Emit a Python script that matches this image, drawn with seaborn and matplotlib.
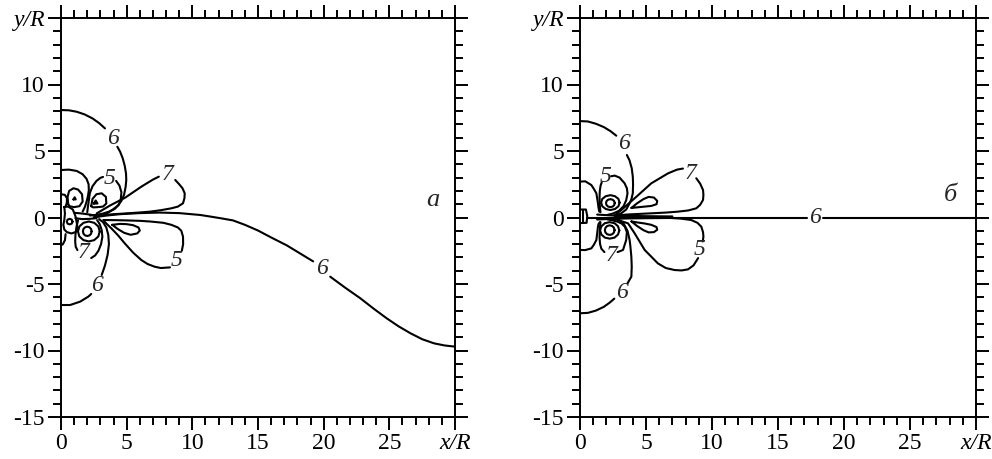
import numpy as np
import pandas as pd
import matplotlib
matplotlib.use("Agg")
import matplotlib.pyplot as plt
import seaborn as sns

sns.set_style("ticks")
plt.rcParams['font.family'] = ['Liberation Serif', 'DejaVu Serif']
plt.rcParams['axes.unicode_minus'] = False

# ---------------- tick labels ----------------
x_ticks = [0, 5, 10, 15, 20, 25, 30]
x_tick_labels = ['0', '5', '10', '15', '20', '25', 'x/R']
y_ticks = [-15, -10, -5, 0, 5, 10, 15]
y_tick_labels = ['-15', '-10', '-5', '0', '5', '10', 'y/R']

# ---------------- panel a: contour lines (x/R, y/R) ----------------
a_big6_up1_x = [0, 0.6, 1.2, 1.8, 2.4, 2.9, 3.35]
a_big6_up1_y = [8.08, 8.06, 7.95, 7.75, 7.45, 7.1, 6.7]
a_big6_up2_x = [4.29, 4.5, 4.7, 4.85, 4.95, 4.97, 4.92, 4.8, 4.6, 4.33, 3.95, 3.5, 2.97, 2.5]
a_big6_up2_y = [5.32, 4.95, 4.45, 3.9, 3.32, 2.8, 2.3, 1.7, 1.25, 0.9, 0.6, 0.32, 0.11, 0.02]
a_big6_lo1_x = [0, 0.69, 1.45, 2.08, 2.3]
a_big6_lo1_y = [-6.58, -6.58, -6.33, -5.95, -5.75]
a_big6_lo2_x = [3.1, 3.35, 3.55, 3.65, 3.6, 3.45, 3.2, 2.9]
a_big6_lo2_y = [-4.32, -3.6, -2.8, -2.0, -1.3, -0.75, -0.35, -0.12]
a_long6_1_x = [2.6, 3.5, 4.5, 6.0, 7.5, 9.0, 10.6, 11.5, 12.3, 13.1, 14.0, 15.0, 16.0, 17.2, 18.2, 19.2]
a_long6_1_y = [0.03, 0.15, 0.25, 0.33, 0.37, 0.33, 0.19, 0.05, -0.08, -0.22, -0.55, -0.98, -1.5, -2.1, -2.7, -3.3]
a_long6_2_x = [20.5, 21.6, 22.8, 23.8, 24.8, 25.7, 26.6, 27.5, 28.4, 29.2, 30.0]
a_long6_2_y = [-4.45, -5.25, -6.08, -6.85, -7.58, -8.18, -8.7, -9.15, -9.46, -9.62, -9.71]
a_pet7_1_x = [2.72, 3.73, 4.9, 6.12, 7.0, 7.45]
a_pet7_1_y = [0.31, 0.9, 1.5, 2.32, 2.85, 3.07]
a_pet7_2_x = [8.7, 9.0, 9.25, 9.42, 9.4, 9.29, 8.9, 8.4, 7.6, 6.78, 5.9, 5.0, 4.0, 3.22, 2.6]
a_pet7_2_y = [2.82, 2.5, 2.2, 1.82, 1.45, 1.07, 0.82, 0.69, 0.55, 0.44, 0.37, 0.31, 0.25, 0.19, 0.12]
a_pet5_1_x = [3.22, 4.2, 5.0, 6.0, 6.78, 7.8, 8.4, 8.9, 9.16, 9.29, 9.3, 9.2]
a_pet5_1_y = [-0.19, -0.2, -0.22, -0.25, -0.3, -0.4, -0.55, -0.75, -1.0, -1.44, -2.0, -2.5]
a_pet5_2_x = [8.3, 7.6, 7.13, 6.6, 6.12, 5.5, 4.85, 4.35, 3.83, 3.5, 3.3]
a_pet5_2_y = [-3.75, -3.8, -3.7, -3.5, -3.2, -2.65, -1.94, -1.35, -0.81, -0.5, -0.3]
a_oval_lo_x = [3.9, 4.5, 5.0, 5.5, 5.9, 6.0, 5.8, 5.3, 4.8, 4.3, 3.9]
a_oval_lo_y = [-0.55, -0.48, -0.5, -0.58, -0.75, -0.98, -1.2, -1.3, -1.15, -0.85, -0.55]
a_arc_x = [0, 0.6, 1.2, 1.65, 1.95, 2.1, 2.12, 2.05, 1.95, 1.82, 1.65]
a_arc_y = [3.57, 3.6, 3.5, 3.25, 2.9, 2.5, 2.05, 1.6, 1.2, 0.8, 0.45]
a_ovl_ul_x = [0.55, 0.5, 0.62, 0.95, 1.3, 1.6, 1.65, 1.4, 1.0, 0.65, 0.55]
a_ovl_ul_y = [1.0, 1.55, 2.0, 2.2, 2.1, 1.75, 1.2, 0.85, 0.78, 0.85, 1.0]
a_dot_ul_x = [0.95, 1.12, 1.04, 0.95]
a_dot_ul_y = [1.36, 1.36, 1.52, 1.36]
a_lobe5_1_x = [2.0, 2.05, 2.12, 2.2, 2.4, 2.7, 3.0, 3.2]
a_lobe5_1_y = [0.4, 0.8, 1.3, 1.85, 2.35, 2.75, 2.98, 3.05]
a_lobe5_2_x = [4.2, 4.45, 4.6, 4.55, 4.4, 4.1, 3.7, 3.2, 2.7, 2.2]
a_lobe5_2_y = [2.75, 2.4, 1.9, 1.35, 0.95, 0.65, 0.45, 0.3, 0.2, 0.15]
a_ovl_ur_x = [2.3, 2.4, 2.7, 3.1, 3.42, 3.45, 3.2, 2.8, 2.45, 2.3]
a_ovl_ur_y = [0.85, 1.4, 1.75, 1.82, 1.55, 1.05, 0.82, 0.78, 0.76, 0.85]
a_dot_ur_x = [2.5, 2.78, 2.64, 2.5]
a_dot_ur_y = [1.05, 1.05, 1.28, 1.05]
a_circ_out_x = [2.95, 2.84, 2.53, 2.12, 1.71, 1.4, 1.29, 1.4, 1.71, 2.12, 2.53, 2.84, 2.95]
a_circ_out_y = [-1.05, -0.67, -0.4, -0.3, -0.4, -0.67, -1.05, -1.43, -1.7, -1.8, -1.7, -1.43, -1.05]
a_circ_in_x = [2.33, 2.29, 2.16, 2.0, 1.84, 1.71, 1.67, 1.71, 1.84, 2.0, 2.16, 2.29, 2.33]
a_circ_in_y = [-1.04, -0.86, -0.73, -0.69, -0.73, -0.86, -1.04, -1.22, -1.35, -1.39, -1.35, -1.22, -1.04]
a_u7_1_x = [1.3, 1.18, 1.1, 1.08, 1.12, 1.25]
a_u7_1_y = [-0.2, -0.7, -1.3, -1.8, -2.2, -2.45]
a_u7_2_x = [2.3, 2.6, 2.85, 3.05, 3.15, 3.1, 2.95, 2.75]
a_u7_2_y = [-3.05, -2.85, -2.5, -2.0, -1.45, -0.95, -0.5, -0.2]
a_wig_x = [0.25, 0.55, 0.9, 1.1, 1.2, 1.25, 1.1, 0.8, 0.45, 0.25, 0.18, 0.25, 0.3, 0.25]
a_wig_y = [0.8, 0.82, 0.6, 0.1, -0.4, -0.85, -1.1, -1.2, -1.1, -0.9, -0.55, -0.2, 0.3, 0.8]
a_circ_s_x = [0.88, 0.82, 0.66, 0.5, 0.44, 0.5, 0.66, 0.82, 0.88]
a_circ_s_y = [-0.31, -0.16, -0.1, -0.16, -0.31, -0.46, -0.52, -0.46, -0.31]
a_wtop_x = [0, 0.3, 0.45, 0.45, 0.38]
a_wtop_y = [1.75, 1.7, 1.45, 1.15, 0.9]
a_wbot_x = [0.35, 0.3, 0.15, 0]
a_wbot_y = [-1.25, -1.7, -2.0, -2.1]
a_cen1_x = [1.05, 1.6, 2.2, 2.8]
a_cen1_y = [0.35, 0.3, 0.22, 0.1]
a_cen2_x = [1.1, 1.6, 2.2, 2.7]
a_cen2_y = [-0.05, -0.12, -0.1, -0.05]

a_labels_txt = ['6', '5', '7', '7', '6', '5', '6']
a_labels_x = [3.97, 3.7, 8.15, 1.7, 2.72, 8.8, 19.9]
a_labels_y = [5.97, 2.94, 3.2, -2.65, -5.1, -3.2, -3.85]

# ---------------- panel б ----------------
b_6up1_x = [0, 0.6, 1.2, 1.8, 2.3, 2.75]
b_6up1_y = [7.25, 7.22, 7.05, 6.8, 6.5, 6.15]
b_6up2_x = [3.55, 3.75, 3.92, 4.0, 4.02, 4.0, 3.9, 3.76, 3.5, 3.1, 2.6]
b_6up2_y = [4.7, 4.3, 3.7, 3.07, 2.5, 1.82, 1.4, 1.07, 0.6, 0.3, 0.15]
b_6lo1_x = [0, 0.6, 1.2, 1.8, 2.25, 2.6]
b_6lo1_y = [-7.2, -7.17, -7.0, -6.72, -6.4, -6.1]
b_6lo2_x = [3.6, 3.89, 3.92, 3.89, 3.82, 3.76, 3.6, 3.3, 2.9, 2.6]
b_6lo2_y = [-4.95, -4.45, -3.7, -2.95, -2.2, -1.69, -1.0, -0.45, -0.15, -0.08]
b_pet7_1_x = [2.6, 3.13, 4.27, 5.4, 6.67, 7.35, 7.8]
b_pet7_1_y = [0.15, 0.56, 1.56, 2.57, 3.32, 3.6, 3.68]
b_pet7_2_x = [8.81, 9.1, 9.32, 9.35, 9.32, 9.1, 8.81, 8.2, 7.42, 6.5, 5.5, 4.5, 3.5, 2.8]
b_pet7_2_y = [2.95, 2.55, 2.07, 1.7, 1.32, 0.95, 0.69, 0.53, 0.44, 0.37, 0.32, 0.27, 0.22, 0.15]
b_pet5_1_x = [2.6, 3.64, 4.14, 4.9, 5.9, 6.5, 7.17, 7.7, 8.18, 8.6, 8.95]
b_pet5_1_y = [-0.1, -0.44, -1.19, -2.44, -3.45, -3.8, -3.95, -3.98, -3.9, -3.6, -3.05]
b_pet5_2_x = [9.3, 9.35, 9.32, 9.19, 8.9, 8.43, 7.6, 6.8, 5.9, 5.0, 4.1, 3.3, 2.7]
b_pet5_2_y = [-1.8, -1.44, -1.1, -0.69, -0.4, -0.19, -0.08, -0.03, 0.0, 0.02, 0.04, 0.06, 0.08]
b_oval_up_x = [3.9, 4.3, 4.8, 5.2, 5.6, 5.85, 5.8, 5.4, 4.9, 4.4, 3.9]
b_oval_up_y = [0.72, 1.05, 1.38, 1.55, 1.5, 1.25, 1.0, 0.87, 0.82, 0.77, 0.72]
b_oval_lo_x = [3.9, 4.3, 4.8, 5.2, 5.6, 5.85, 5.8, 5.4, 4.9, 4.4, 3.9]
b_oval_lo_y = [-0.3, -0.62, -0.95, -1.12, -1.1, -0.92, -0.72, -0.55, -0.45, -0.38, -0.3]
b_arc_up_x = [0, 0.4, 0.86, 1.05, 1.24, 1.3, 1.36, 1.4, 1.46]
b_arc_up_y = [2.7, 2.72, 2.44, 2.15, 1.82, 1.45, 1.07, 0.75, 0.44]
b_arc_lo_x = [0, 0.4, 0.86, 1.05, 1.24, 1.3, 1.36, 1.4, 1.5]
b_arc_lo_y = [-2.44, -2.45, -2.32, -2.05, -1.69, -1.2, -0.69, -0.5, -0.35]
b_lobe5_1_x = [1.55, 1.5, 1.48, 1.5, 1.56, 1.65]
b_lobe5_1_y = [0.4, 0.9, 1.5, 2.0, 2.4, 2.65]
b_lobe5_2_x = [2.35, 2.63, 3.0, 3.38, 3.55, 3.6, 3.5, 3.3, 2.95, 2.5, 2.1]
b_lobe5_2_y = [3.1, 3.15, 3.0, 2.57, 2.2, 1.82, 1.3, 0.85, 0.5, 0.3, 0.2]
b_lobe7_1_x = [1.55, 1.5, 1.48, 1.52, 1.62, 1.85]
b_lobe7_1_y = [-0.35, -0.9, -1.5, -2.0, -2.35, -2.6]
b_lobe7_2_x = [2.85, 3.26, 3.5, 3.55, 3.4, 3.15, 2.8, 2.4, 2.1]
b_lobe7_2_y = [-2.6, -2.44, -1.69, -1.1, -0.7, -0.45, -0.3, -0.2, -0.15]
b_ovo_up_x = [3.0, 2.91, 2.65, 2.3, 1.95, 1.69, 1.6, 1.69, 1.95, 2.3, 2.65, 2.91, 3.0]
b_ovo_up_y = [1.12, 1.4, 1.6, 1.68, 1.6, 1.4, 1.12, 0.84, 0.64, 0.56, 0.64, 0.84, 1.12]
b_ovi_up_x = [2.63, 2.59, 2.47, 2.3, 2.13, 2.01, 1.97, 2.01, 2.13, 2.3, 2.47, 2.59, 2.63]
b_ovi_up_y = [1.08, 1.23, 1.34, 1.38, 1.34, 1.23, 1.08, 0.93, 0.82, 0.78, 0.82, 0.93, 1.08]
b_ovo_lo_x = [2.98, 2.88, 2.62, 2.25, 1.88, 1.62, 1.52, 1.62, 1.88, 2.25, 2.62, 2.88, 2.98]
b_ovo_lo_y = [-0.97, -0.66, -0.43, -0.35, -0.43, -0.66, -0.97, -1.28, -1.51, -1.59, -1.51, -1.28, -0.97]
b_ovi_lo_x = [2.62, 2.57, 2.44, 2.25, 2.06, 1.93, 1.88, 1.93, 2.06, 2.25, 2.44, 2.57, 2.62]
b_ovi_lo_y = [-0.95, -0.77, -0.64, -0.59, -0.64, -0.77, -0.95, -1.13, -1.26, -1.31, -1.26, -1.13, -0.95]
b_box_x = [0, 0.45, 0.55, 0.5, 0]
b_box_y = [0.6, 0.6, 0.1, -0.4, -0.42]
b_boxv_x = [0.25, 0.25]
b_boxv_y = [0.6, -0.42]
b_axis1_x = [0.5, 17.2]
b_axis1_y = [0.0, 0.0]
b_axis2_x = [18.4, 30]
b_axis2_y = [0.0, 0.0]
b_cen1_x = [1.3, 2.5, 3.6, 5.0, 7.0]
b_cen1_y = [0.22, 0.15, 0.12, 0.1, 0.08]
b_cen2_x = [1.3, 2.5, 3.6, 5.0, 7.0]
b_cen2_y = [-0.15, -0.1, -0.07, -0.05, -0.03]

b_labels_txt = ['6', '5', '7', '6', '7', '5', '6']
b_labels_x = [3.35, 1.92, 8.4, 3.15, 2.37, 9.05, 17.8]
b_labels_y = [5.6, 3.07, 3.3, -5.65, -2.82, -2.42, 0.0]

panel_a_segments = [
    (a_big6_up1_x, a_big6_up1_y), (a_big6_up2_x, a_big6_up2_y),
    (a_big6_lo1_x, a_big6_lo1_y), (a_big6_lo2_x, a_big6_lo2_y),
    (a_long6_1_x, a_long6_1_y), (a_long6_2_x, a_long6_2_y),
    (a_pet7_1_x, a_pet7_1_y), (a_pet7_2_x, a_pet7_2_y),
    (a_pet5_1_x, a_pet5_1_y), (a_pet5_2_x, a_pet5_2_y),
    (a_oval_lo_x, a_oval_lo_y), (a_arc_x, a_arc_y),
    (a_ovl_ul_x, a_ovl_ul_y), (a_dot_ul_x, a_dot_ul_y),
    (a_lobe5_1_x, a_lobe5_1_y), (a_lobe5_2_x, a_lobe5_2_y),
    (a_ovl_ur_x, a_ovl_ur_y), (a_dot_ur_x, a_dot_ur_y),
    (a_circ_out_x, a_circ_out_y), (a_circ_in_x, a_circ_in_y),
    (a_u7_1_x, a_u7_1_y), (a_u7_2_x, a_u7_2_y),
    (a_wig_x, a_wig_y), (a_circ_s_x, a_circ_s_y),
    (a_wtop_x, a_wtop_y), (a_wbot_x, a_wbot_y),
    (a_cen1_x, a_cen1_y), (a_cen2_x, a_cen2_y),
]
panel_b_segments = [
    (b_6up1_x, b_6up1_y), (b_6up2_x, b_6up2_y),
    (b_6lo1_x, b_6lo1_y), (b_6lo2_x, b_6lo2_y),
    (b_pet7_1_x, b_pet7_1_y), (b_pet7_2_x, b_pet7_2_y),
    (b_pet5_1_x, b_pet5_1_y), (b_pet5_2_x, b_pet5_2_y),
    (b_oval_up_x, b_oval_up_y), (b_oval_lo_x, b_oval_lo_y),
    (b_arc_up_x, b_arc_up_y), (b_arc_lo_x, b_arc_lo_y),
    (b_lobe5_1_x, b_lobe5_1_y), (b_lobe5_2_x, b_lobe5_2_y),
    (b_lobe7_1_x, b_lobe7_1_y), (b_lobe7_2_x, b_lobe7_2_y),
    (b_ovo_up_x, b_ovo_up_y), (b_ovi_up_x, b_ovi_up_y),
    (b_ovo_lo_x, b_ovo_lo_y), (b_ovi_lo_x, b_ovi_lo_y),
    (b_box_x, b_box_y), (b_boxv_x, b_boxv_y),
    (b_axis1_x, b_axis1_y), (b_axis2_x, b_axis2_y),
    (b_cen1_x, b_cen1_y), (b_cen2_x, b_cen2_y),
]


def to_frame(segments):
    rows = []
    for i, (xs, ys) in enumerate(segments):
        for j, (xv, yv) in enumerate(zip(xs, ys)):
            rows.append({'x': xv, 'y': yv, 'seg': i, 'order': j})
    return pd.DataFrame(rows)


fig = plt.figure(figsize=(9.92, 4.59), dpi=100)
ax_a = fig.add_axes([61 / 992, 1 - 417 / 459, (455 - 61) / 992, (417 - 18) / 459])
ax_b = fig.add_axes([580 / 992, 1 - 417 / 459, (976 - 580) / 992, (417 - 18) / 459])

label_font = dict(family='Liberation Serif', style='italic', fontsize=17)

for ax, segs, ltxt, lx, ly, panel, pxy in [
    (ax_a, panel_a_segments, a_labels_txt, a_labels_x, a_labels_y, 'а', (28.3, 1.3)),
    (ax_b, panel_b_segments, b_labels_txt, b_labels_x, b_labels_y, 'б', (28.1, 1.7)),
]:
    df = to_frame(segs)
    sns.lineplot(data=df, x='x', y='y', units='seg', estimator=None, sort=False,
                 color='black', linewidth=1.5, ax=ax, legend=False)
    for t, xv, yv in zip(ltxt, lx, ly):
        ax.text(xv, yv, t, ha='center', va='center', **label_font)
    ax.text(pxy[0], pxy[1], panel, ha='center', va='center', family='Liberation Serif',
            style='italic', fontsize=19)

    ax.set_xlim(0, 30)
    ax.set_ylim(-15, 15)
    ax.set_xlabel('')
    ax.set_ylabel('')
    ax.set_xticks(x_ticks)
    ax.set_xticklabels(x_tick_labels)
    ax.set_yticks(y_ticks)
    ax.set_yticklabels(y_tick_labels)
    ax.set_xticks(np.arange(0, 31, 1), minor=True)
    ax.set_yticks(np.arange(-15, 16, 1), minor=True)
    ax.tick_params(which='both', direction='out', top=True, right=True,
                   width=1.4, colors='black', labelsize=17, pad=2)
    ax.tick_params(which='major', length=9.5)
    ax.tick_params(which='minor', length=5.5)
    ax.get_xticklabels()[-1].set_style('italic')
    ax.get_yticklabels()[-1].set_style('italic')
    for sp in ax.spines.values():
        sp.set_linewidth(1.4)
        sp.set_color('black')

fig.savefig('out.png', dpi=100)
